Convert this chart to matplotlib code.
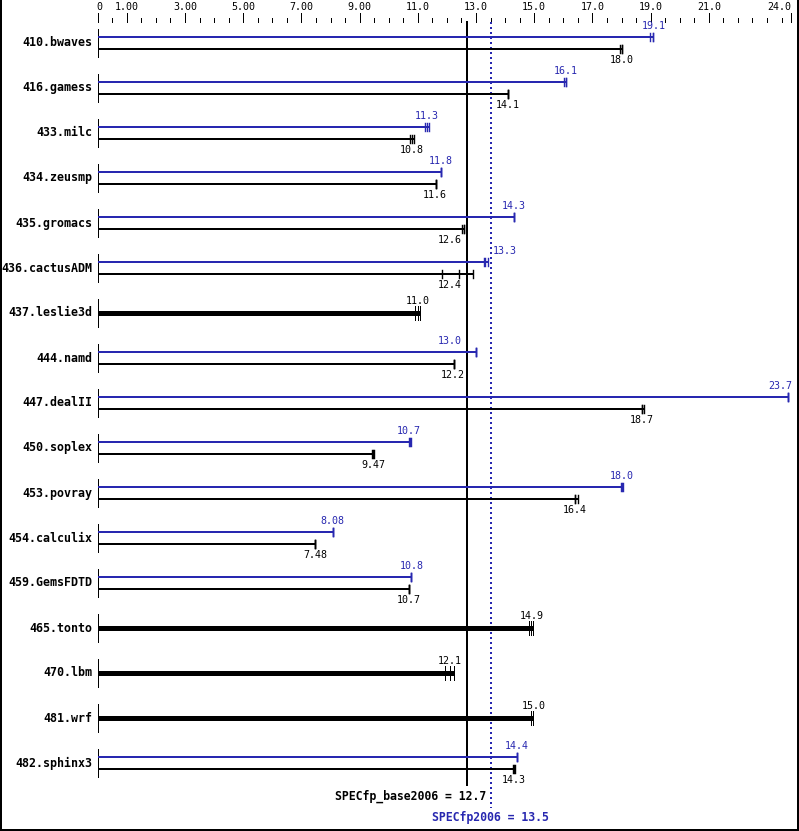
import numpy as np
import matplotlib
matplotlib.use('Agg')
import matplotlib.pyplot as plt

names = ['410.bwaves', '416.gamess', '433.milc', '434.zeusmp', '435.gromacs',
         '436.cactusADM', '437.leslie3d', '444.namd', '447.dealII', '450.soplex',
         '453.povray', '454.calculix', '459.GemsFDTD', '465.tonto', '470.lbm',
         '481.wrf', '482.sphinx3']

# median ratios (None = peak same as base -> single thick bar)
base_med = [18.0, 14.1, 10.8, 11.6, 12.6, 12.4, 11.0, 12.2, 18.7, 9.47,
            16.4, 7.48, 10.7, 14.9, 12.1, 15.0, 14.3]
peak_med = [19.1, 16.1, 11.3, 11.8, 14.3, 13.3, None, 13.0, 23.7, 10.7,
            18.0, 8.08, 10.8, None, None, None, 14.4]

# individual run ratios (tick marks)
base_runs = [[17.95, 18.0, 18.02], [14.1, 14.1, 14.1], [10.73, 10.8, 10.87],
             [11.63, 11.63, 11.63], [12.52, 12.59, 12.59], [11.82, 12.4, 12.9],
             [10.92, 11.0, 11.08], [12.23, 12.23, 12.23], [18.7, 18.72, 18.77],
             [9.44, 9.47, 9.48], [16.39, 16.4, 16.51], [7.47, 7.47, 7.47],
             [10.71, 10.71, 10.71], [14.83, 14.9, 14.97], [11.92, 12.1, 12.24],
             [14.9, 14.97, 14.97], [14.26, 14.3, 14.33]]
peak_runs = [[18.98, 19.07, 19.07], [16.03, 16.08, 16.1], [11.26, 11.33, 11.39],
             [11.81, 11.81, 11.81], [14.3, 14.3, 14.3], [13.28, 13.3, 13.42],
             None, [12.99, 12.99, 12.99], [23.73, 23.73, 23.73], [10.71, 10.74, 10.78],
             [17.98, 18.0, 18.05], [8.09, 8.09, 8.09], [10.77, 10.77, 10.77],
             None, None, None, [14.41, 14.41, 14.41]]

base_score = 12.7
peak_score = 13.5

major_ticks = [0, 1, 3, 5, 7, 9, 11, 13, 15, 17, 19, 21, 23.82]
major_labels = ['0', '1.00', '3.00', '5.00', '7.00', '9.00', '11.0', '13.0',
                '15.0', '17.0', '19.0', '21.0', '24.0']

BLUE = '#2828b0'
PX = 29.1          # pixels per unit
X0 = 97.7          # pixel position of 0
W, H = 799, 831
px = 0.72          # one pixel in points at dpi 100
MONO = 'DejaVu Sans Mono'

def u(p):
    """pixels -> data units along x"""
    return p / PX

def fmt(v):
    return '%.1f' % v if v >= 10 else '%.2f' % v

def label_x(v, s):
    """center for a value label, nudged off the score lines and the edge"""
    half = u(len(s) * 3)
    if v - half < base_score < v + half:
        return base_score - u(5) - half
    if v - half < peak_score < v + half:
        return peak_score + u(2) + half
    right = u(792 - X0)
    if v + half > right:
        return right - half
    return v

fig = plt.figure(figsize=(W / 100, H / 100), dpi=100)
ax = fig.add_axes([0, 0, 1, 1])
ax.set_xlim(-X0 / PX, (W - X0) / PX)
ax.set_ylim(H, 0)
ax.axis('off')

# top scale
for t, lab in zip(major_ticks, major_labels):
    ax.plot([t, t], [13, 22], color='black', lw=px)
    ha = 'left' if t == 0 else ('right' if lab == '24.0' else 'center')
    ax.text(t - (u(1) if t == 0 else 0), 7, lab, ha=ha, va='center',
            fontsize=7.2, family=MONO)
for t in np.arange(0.5, 23.6, 0.5):
    if t not in major_ticks:
        ax.plot([t, t], [18, 22], color='black', lw=px)

# score lines
ax.plot([base_score, base_score], [22, 785], color='black', lw=2 * px)
ax.plot([peak_score, peak_score], [22, 808], color=BLUE, lw=2 * px,
        linestyle=(0, (1, 1.5)))

for i, name in enumerate(names):
    yc = 43 + 45 * i
    ax.text(u(-5), yc, name, ha='right', va='center', fontsize=8.4,
            family=MONO, fontweight='bold')
    ax.plot([0, 0], [yc - 14, yc + 14], color='black', lw=px)

    if peak_med[i] is None:
        runs = base_runs[i]
        ax.plot([0, max(runs)], [yc, yc], color='black', lw=5 * px,
                solid_capstyle='butt')
        for r in runs:
            ax.plot([r, r], [yc - 7, yc + 7], color='black', lw=px)
        s = fmt(base_med[i])
        ax.text(label_x(base_med[i], s), yc - 12, s, ha='center', va='center',
                fontsize=7.2, family=MONO)
        continue

    yp, yb = yc - 6, yc + 6
    runs = peak_runs[i]
    ax.plot([0, max(runs)], [yp, yp], color=BLUE, lw=2 * px,
            solid_capstyle='butt')
    for r in runs:
        ax.plot([r, r], [yp - 4, yp + 4], color=BLUE, lw=1.4 * px)
    s = fmt(peak_med[i])
    ax.text(label_x(peak_med[i], s), yp - 11, s, ha='center', va='center',
            fontsize=7.2, family=MONO, color=BLUE)

    runs = base_runs[i]
    ax.plot([0, max(runs)], [yb, yb], color='black', lw=2 * px,
            solid_capstyle='butt')
    for r in runs:
        ax.plot([r, r], [yb - 4, yb + 4], color='black', lw=1.4 * px)
    s = fmt(base_med[i])
    ax.text(label_x(base_med[i], s), yb + 11, s, ha='center', va='center',
            fontsize=7.2, family=MONO)

ax.text(peak_score - u(4), 796, 'SPECfp_base2006 = %.1f' % base_score,
        ha='right', va='center', fontsize=8.3, family=MONO, fontweight='bold')
ax.text(peak_score, 817, 'SPECfp2006 = %.1f' % peak_score, ha='center',
        va='center', fontsize=8.3, family=MONO, fontweight='bold', color=BLUE)

# frame
xl = ax.get_xlim()
ax.plot([xl[0] + u(1), xl[0] + u(1)], [0, H - 1], color='black', lw=2 * px)
ax.plot([xl[1] - u(1), xl[1] - u(1)], [0, H - 1], color='black', lw=2 * px)
ax.plot([xl[0], xl[1]], [H - 1.5, H - 1.5], color='black', lw=2 * px)

fig.savefig('out.png', dpi=100)
